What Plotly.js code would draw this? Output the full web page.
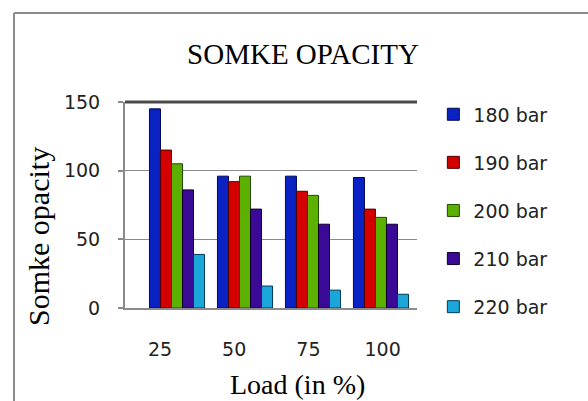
<!DOCTYPE html>
<html>
<head>
<meta charset="utf-8">
<script src="https://cdn.plot.ly/plotly-3.0.1.min.js"></script>
<style>
html,body{margin:0;padding:0;background:#fff;}
#chart{width:588px;height:401px;}
</style>
</head>
<body>
<div id="chart"></div>
<script>
// ---- data ----
var categories = ["25", "50", "75", "100"];
var seriesNames = ["180 bar", "190 bar", "200 bar", "210 bar", "220 bar"];
var bar180 = [145, 96, 96, 95];
var bar190 = [115, 92, 85, 72];
var bar200 = [105, 96, 82, 66];
var bar210 = [86, 72, 61, 61];
var bar220 = [39, 16, 13, 10];
var yTicks = [0, 50, 100, 150];

var chartTitle = "SOMKE OPACITY";
var xTitle = "Load (in %)";
var yTitle = "Somke opacity";

// ---- styles ----
var fills = ["#0a22c4", "#d40000", "#5cb000", "#3a0a96", "#1aa6d8"];
var edges = ["#000a50", "#500000", "#1f4a00", "#10002e", "#003a5a"];
var seriesValues = [bar180, bar190, bar200, bar210, bar220];

var traces = seriesValues.map(function (vals, i) {
  return {
    type: "bar",
    name: seriesNames[i],
    x: categories,
    y: vals,
    legendgroup: "g" + i,
    marker: { color: fills[i], line: { color: edges[i], width: 1 } },
    hoverinfo: "x+y+name"
  };
});
// empty trace that carries the offset category-label axis
traces.push({ type: "scatter", x: [], y: [], xaxis: "x2", yaxis: "y", showlegend: false, hoverinfo: "skip" });

var tickFont = { family: "DejaVu Sans", size: 19, color: "#222" };
var serif = "Liberation Serif, Times New Roman, serif";

var layout = {
  width: 588,
  height: 401,
  margin: { l: 125, r: 171, t: 102, b: 93 },
  paper_bgcolor: "#ffffff",
  plot_bgcolor: "#ffffff",
  showlegend: true,
  barmode: "group",
  bargap: 0.19,
  bargroupgap: 0,
  title: {
    text: chartTitle,
    font: { family: serif, size: 29, color: "#000" },
    xref: "container", x: 303 / 588, xanchor: "center",
    yref: "container", y: 1 - 54 / 401, yanchor: "middle"
  },
  xaxis: {
    type: "category",
    range: [-0.765, 3.53],
    showticklabels: false,
    ticks: "",
    showgrid: false,
    showline: true, linecolor: "#8a8a8a", linewidth: 2,
    zeroline: false,
    fixedrange: true
  },
  xaxis2: {
    type: "linear",
    overlaying: "x",
    anchor: "y",
    side: "bottom",
    range: [-0.472, 3.464],
    tickmode: "array",
    tickvals: categories.map(function (c, i) { return i; }),
    ticktext: categories,
    ticks: "",
    showgrid: false,
    showline: false,
    zeroline: false,
    tickfont: tickFont,
    ticklabelstandoff: 28,
    fixedrange: true
  },
  yaxis: {
    range: [0, 150],
    tickmode: "array",
    tickvals: yTicks,
    ticktext: yTicks.map(String),
    ticks: "outside", ticklen: 5, tickcolor: "#8a8a8a", tickwidth: 2,
    ticklabelstandoff: 14,
    tickfont: tickFont,
    showgrid: true, gridcolor: "#8a8a8a", gridwidth: 1.5,
    showline: true, linecolor: "#8a8a8a", linewidth: 2,
    zeroline: false,
    fixedrange: true
  },
  legend: {
    x: 1.056, xanchor: "left",
    y: 1.032, yanchor: "top",
    font: { family: "DejaVu Sans", size: 19, color: "#222" },
    traceorder: "grouped",
    tracegroupgap: 20.4,
    maxheight: 380,
    bgcolor: "rgba(0,0,0,0)",
    borderwidth: 0
  },
  annotations: [
    {
      text: xTitle, showarrow: false,
      xref: "paper", yref: "paper",
      x: (297.5 - 125) / 292, y: (308 - 384) / 206,
      xanchor: "center", yanchor: "middle",
      font: { family: serif, size: 28, color: "#000" }
    },
    {
      text: yTitle, showarrow: false, textangle: -90,
      xref: "paper", yref: "paper",
      x: (38 - 125) / 292, y: (308 - 236) / 206,
      xanchor: "center", yanchor: "middle",
      font: { family: serif, size: 30, color: "#000" }
    }
  ],
  shapes: [
    // heavy top rule of the plot area
    { type: "line", xref: "paper", yref: "paper", x0: 0, x1: 1, y0: 1, y1: 1,
      line: { color: "#4a4a4a", width: 3 } },
    // outer frame (left and top edges)
    { type: "line", xref: "paper", yref: "paper", x0: (14 - 125) / 292, x1: (14 - 125) / 292,
      y0: (308 - 13) / 206, y1: -0.6, line: { color: "#8c8c8c", width: 2 } },
    { type: "line", xref: "paper", yref: "paper", x0: (14 - 125) / 292, x1: 1.7,
      y0: (308 - 13) / 206, y1: (308 - 13) / 206, line: { color: "#8c8c8c", width: 2 } }
  ]
};

Plotly.newPlot("chart", traces, layout, { displayModeBar: false, staticPlot: true });
</script>
</body>
</html>
